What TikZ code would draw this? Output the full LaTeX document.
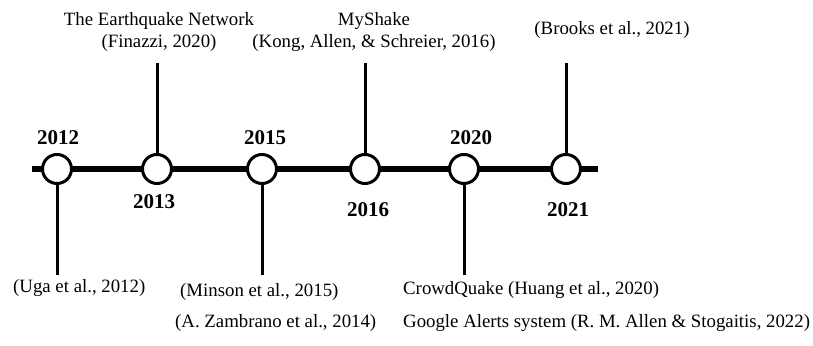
\documentclass[tikz,border=0pt]{standalone}
\usepackage{fontspec}
\setmainfont{Liberation Serif}
\tikzset{
	event/.style={circle, draw, fill=white, line width=3pt, minimum size=29pt, inner sep=0pt},
	stem/.style={line width=3pt},
	year/.style={inner sep=0pt, font=\fontsize{21}{25}\selectfont\bfseries},
	cite/.style={inner sep=0pt, align=center, font=\fontsize{18.8}{22}\selectfont}
}
\begin{document}
\begin{tikzpicture}[x=1pt, y=-1pt]
		\useasboundingbox (0,0) rectangle (813,345);
		% Time axis
		\coordinate (start) at (32,169);
		\coordinate (end) at (598,169);
		\draw [line width=6pt] (start) -- (end);
		% Events on axis
		\foreach \yr/\x in {12/57, 13/157, 15/262, 16/365, 20/464, 21/566}
			\node [event] (c\yr) at (\x,169) {};
		% Stems up and down
		\foreach \yr/\side/\y in {12/south/275, 13/north/63, 15/south/275, 16/north/63, 20/south/275, 21/north/63} {
			\coordinate (e\yr) at (c\yr |- 0,\y);
			\draw [stem] (c\yr.\side) -- (e\yr);
		}
		% Years
		\node [year] (y12) at (58,138) {2012};
		\node [year] (y13) at (154,202) {2013};
		\node [year] (y15) at (265,138) {2015};
		\node [year] (y16) at (368,210) {2016};
		\node [year] (y20) at (471,138) {2020};
		\node [year] (y21) at (568,210) {2021};
		% References above
		\node [cite] (r13) at (159,32) {The Earthquake Network\\(Finazzi, 2020)};
		\node [cite] (r16) at (374,32) {MyShake\\(Kong, Allen, \& Schreier, 2016)};
		\node [cite] (r21) at (612,30) {(Brooks et al., 2021)};
		% References below
		\node [cite, anchor=west] (r12) at (13,288) {(Uga et al., 2012)};
		\node [cite, anchor=west] (r15) at (180,292) {(Minson et al., 2015)};
		\node [cite, anchor=west] (r14) at (175,323) {(A. Zambrano et al., 2014)};
		\node [cite, anchor=west] (r20) at (403,290) {CrowdQuake (Huang et al., 2020)};
		\node [cite, anchor=west] (r22) at (403,323) {Google Alerts system (R. M. Allen \& Stogaitis, 2022)};
	\end{tikzpicture}
\end{document}
